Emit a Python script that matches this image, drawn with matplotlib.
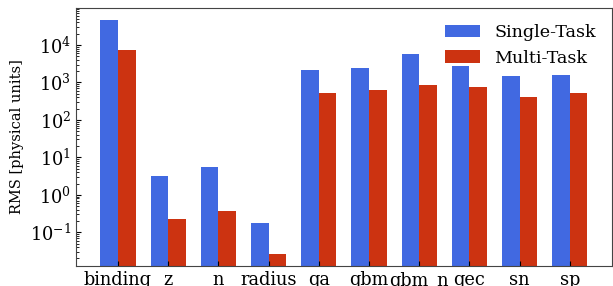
import numpy as np
import matplotlib
matplotlib.use("Agg")
import matplotlib.pyplot as plt

plt.rcParams['font.family'] = 'DejaVu Serif'
plt.rcParams['mathtext.fontset'] = 'dejavuserif'

labels = ['binding', 'z', 'n', 'radius', 'qa', 'qbm', 'qbm_n', 'qec', 'sn', 'sp']
single_task = [46000, 3.2, 5.6, 0.178, 2100, 2500, 5900, 2670, 1450, 1540]
multi_task = [7400, 0.226, 0.37, 0.026, 510, 610, 830, 735, 400, 510]

x = np.arange(len(labels))
w = 0.35

fig = plt.figure(figsize=(6.13, 2.86), dpi=100)
ax = fig.add_axes([0.124, 0.07, 0.874, 0.902])

ax.bar(x - w / 2, single_task, w, color='#4169e1', label='Single-Task')
ax.bar(x + w / 2, multi_task, w, color='#cc3311', label='Multi-Task')

ax.set_yscale('log')
ax.set_ylim(0.0126, 9.7e4)
ax.set_xticks(x)
ax.set_xticklabels(labels, fontsize=12.8)
ax.tick_params(axis='both', which='both', direction='in')
ax.tick_params(axis='y', labelsize=12.8)
ax.set_ylabel('RMS [physical units]', fontsize=10.5)
for s in ax.spines.values():
    s.set_color('#444444')

ax.legend(frameon=False, fontsize=12.6, loc='upper right')

fig.savefig('out.png', dpi=100)
